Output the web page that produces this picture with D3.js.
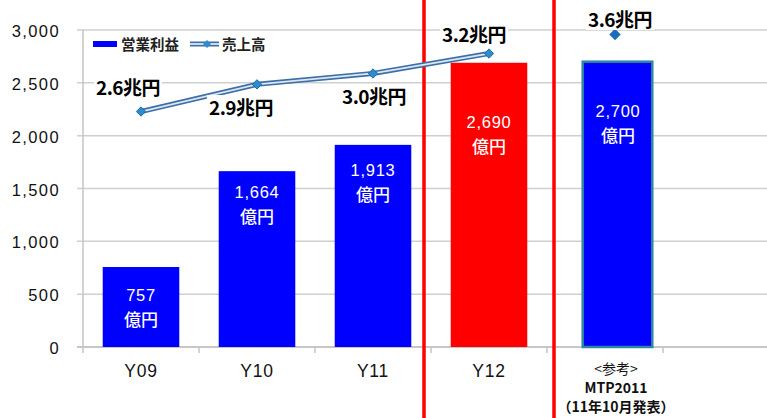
<!DOCTYPE html>
<html>
<head>
<meta charset="utf-8">
<script src="https://cdn.jsdelivr.net/npm/d3@7"></script>
<style>
  body { margin: 0; background: #fff; }
  svg { display: block; }
  .tick-label { font-family: "Liberation Sans", Arial, sans-serif; font-size: 16.5px; letter-spacing: 1.4px; fill: #111; }
  .cat-label { font-family: "Liberation Sans", Arial, sans-serif; font-size: 17.5px; letter-spacing: 0.8px; fill: #111; }
  .jp { font-family: "Noto Sans CJK JP", sans-serif; }
</style>
</head>
<body>
<svg id="chart" width="767" height="418"></svg>
<script>
// categories and values
const categories = ["Y09", "Y10", "Y11", "Y12", "MTP", ""];
const profit = [757, 1664, 1913, 2690, 2700];            // 営業利益 (億円)
const profitLabels = ["757", "1,664", "1,913", "2,690", "2,700"];
const sales = [2.6, 2.9, 3.02, 3.24, 3.45];               // 売上高 (兆円), plotted
const salesLabels = ["2.6兆円", "2.9兆円", "3.0兆円", "3.2兆円", "3.6兆円"];
const yTicks = [0, 500, 1000, 1500, 2000, 2500, 3000];

// layout bits (not data)
const barColors = ["#0000FF", "#0000FF", "#0000FF", "#FF0000", "#0000FF"];
const barShift = [0, 0, 0, 0, 16];
const labelTop = [21, 14, 18, 52, 42];
const salesLabelPos = [[128, 95], [241, 115], [374, 104], [474, 42], [620, 27]];

const svg = d3.select("#chart");
const plotLeft = 83, plotBottom = 347, plotTop = 30, band = 116;

const x = d3.scaleBand()
  .domain(categories)
  .range([plotLeft, plotLeft + band * categories.length]);

const y = d3.scaleLinear()
  .domain([0, 3000])
  .range([plotBottom, plotTop]);

// hidden secondary axis for sales
const y2 = d3.scaleLinear()
  .domain([0, 3.5])
  .range([plotBottom, plotTop]);

// gridlines
svg.append("g")
  .selectAll("line")
  .data(yTicks)
  .join("line")
  .attr("x1", plotLeft - 6)
  .attr("x2", 767)
  .attr("y1", d => y(d))
  .attr("y2", d => y(d))
  .attr("stroke", d => d === 0 ? "#b5b5b5" : "#cfcfcf")
  .attr("stroke-width", 1.5);

// y axis line
svg.append("line")
  .attr("x1", plotLeft).attr("x2", plotLeft)
  .attr("y1", plotTop).attr("y2", plotBottom + 6)
  .attr("stroke", "#c4c4c4").attr("stroke-width", 1.5);

// x ticks at band boundaries
svg.append("g")
  .selectAll("line")
  .data(categories.slice(1))
  .join("line")
  .attr("x1", d => x(d)).attr("x2", d => x(d))
  .attr("y1", plotBottom).attr("y2", plotBottom + 6)
  .attr("stroke", "#c4c4c4").attr("stroke-width", 1.5);

// y tick labels
svg.append("g")
  .selectAll("text")
  .data(yTicks)
  .join("text")
  .classed("tick-label", true)
  .attr("x", 60)
  .attr("y", d => y(d) + 7)
  .style("text-anchor", "end")
  .text(d => d3.format(",")(d));

// bars
const bw = x.bandwidth() * 0.66;
const bars = svg.append("g");
bars.selectAll("rect")
  .data(profit)
  .join("rect")
  .attr("x", (d, i) => x(categories[i]) + (x.bandwidth() - bw) / 2 + barShift[i])
  .attr("y", d => y(d))
  .attr("width", (d, i) => i === 4 ? bw - 7 : bw)
  .attr("height", d => plotBottom - y(d))
  .attr("fill", (d, i) => barColors[i])
  .attr("stroke", (d, i) => i === 4 ? "#2f86a0" : "none")
  .attr("stroke-width", 2.5);

// bar labels
const barLabels = svg.append("g").classed("jp", true)
  .style("fill", "#fff")
  .style("font-size", "16px")
  .style("font-weight", "500")
  .style("text-anchor", "middle");

profit.forEach((d, i) => {
  let cx = x(categories[i]) + x.bandwidth() / 2 + barShift[i] - (i === 4 ? 3 : 0);
  let ty = y(d) + labelTop[i];
  barLabels.append("text")
    .attr("x", cx).attr("y", ty + 13)
    .style("font-family", "'Liberation Sans', Arial, sans-serif")
    .style("font-size", "16.5px")
    .style("letter-spacing", "0.7px")
    .text(profitLabels[i]);
  barLabels.append("text")
    .attr("x", cx).attr("y", ty + 38)
    .style("font-size", "17px")
    .text("億円");
});

// red separators
[["Y12", -7], ["MTP", 7]].forEach(([c, off]) => {
  svg.append("line")
    .attr("x1", x(c) + off).attr("x2", x(c) + off)
    .attr("y1", 0).attr("y2", 418)
    .attr("stroke", "#FF0000").attr("stroke-width", 3.5);
});

// sales line (first four)
const pts = sales.slice(0, 4).map((d, i) => [x(categories[i]) + x.bandwidth() / 2, y2(d)]);
const line = d3.line();
svg.append("path")
  .attr("d", line(pts))
  .attr("fill", "none")
  .attr("stroke", "#3d6fa6")
  .attr("stroke-width", 5);
svg.append("path")
  .attr("d", line(pts))
  .attr("fill", "none")
  .attr("stroke", "#dbe7f5")
  .attr("stroke-width", 1.8);

const diamond = d3.symbol().type(d3.symbolDiamond2);
svg.append("g")
  .selectAll("path")
  .data(pts)
  .join("path")
  .attr("transform", d => `translate(${d[0]},${d[1]})`)
  .attr("d", diamond.size(55)())
  .attr("fill", "#2d8ccc")
  .attr("stroke", "#1f6aa8")
  .attr("stroke-width", 1);

// MTP marker, no line
svg.append("path")
  .attr("transform", `translate(${x("MTP") + x.bandwidth() / 2 + 10},${y2(sales[4])})`)
  .attr("d", diamond.size(85)())
  .attr("fill", "#1b6db8");

// sales labels with white boxes
const salesG = svg.append("g").classed("jp", true);
salesLabels.forEach((t, i) => {
  let g = salesG.append("g");
  let rect = g.append("rect").attr("fill", "#fff");
  let txt = g.append("text")
    .attr("x", salesLabelPos[i][0])
    .attr("y", salesLabelPos[i][1])
    .style("font-size", "19px")
    .style("font-weight", "bold")
    .style("letter-spacing", "-0.5px")
    .style("fill", "#000")
    .style("text-anchor", "middle")
    .text(t);
  let bb = txt.node().getBBox();
  rect.attr("x", bb.x - 2).attr("y", bb.y + 2)
    .attr("width", bb.width + 4).attr("height", bb.height - 4);
});

// category labels
svg.append("g")
  .selectAll("text")
  .data(categories.slice(0, 4))
  .join("text")
  .classed("cat-label", true)
  .attr("x", d => x(d) + x.bandwidth() / 2)
  .attr("y", 377)
  .style("text-anchor", "middle")
  .text(d => d);

const mtpX = x("MTP") + x.bandwidth() / 2 + 11;
const mtpLines = ["<参考>", "MTP2011", "（11年10月発表）"];
svg.append("g").classed("jp", true)
  .selectAll("text")
  .data(mtpLines)
  .join("text")
  .attr("x", mtpX)
  .attr("y", (d, i) => 374 + i * 19)
  .style("font-size", "14px")
  .style("font-weight", (d, i) => i === 0 ? "normal" : "bold")
  .style("fill", "#111")
  .style("text-anchor", "middle")
  .text(d => d);

// legend
const legend = svg.append("g").classed("jp", true)
  .style("font-size", "14.5px")
  .style("font-weight", "bold")
  .style("fill", "#222");
legend.append("rect")
  .attr("x", 93).attr("y", 41).attr("width", 24).attr("height", 6)
  .attr("fill", "#0000FF");
legend.append("text").attr("x", 121).attr("y", 50).text("営業利益");
legend.append("path")
  .attr("d", line([[190, 44], [219, 44]]))
  .attr("stroke", "#3d6fa6").attr("stroke-width", 5).attr("fill", "none");
legend.append("path")
  .attr("d", line([[190, 44], [219, 44]]))
  .attr("stroke", "#dbe7f5").attr("stroke-width", 1.8).attr("fill", "none");
legend.append("path")
  .attr("transform", "translate(207,44)")
  .attr("d", diamond.size(40)())
  .attr("fill", "#2d8ccc");
legend.append("text").attr("x", 222).attr("y", 50).text("売上高");
</script>
</body>
</html>
